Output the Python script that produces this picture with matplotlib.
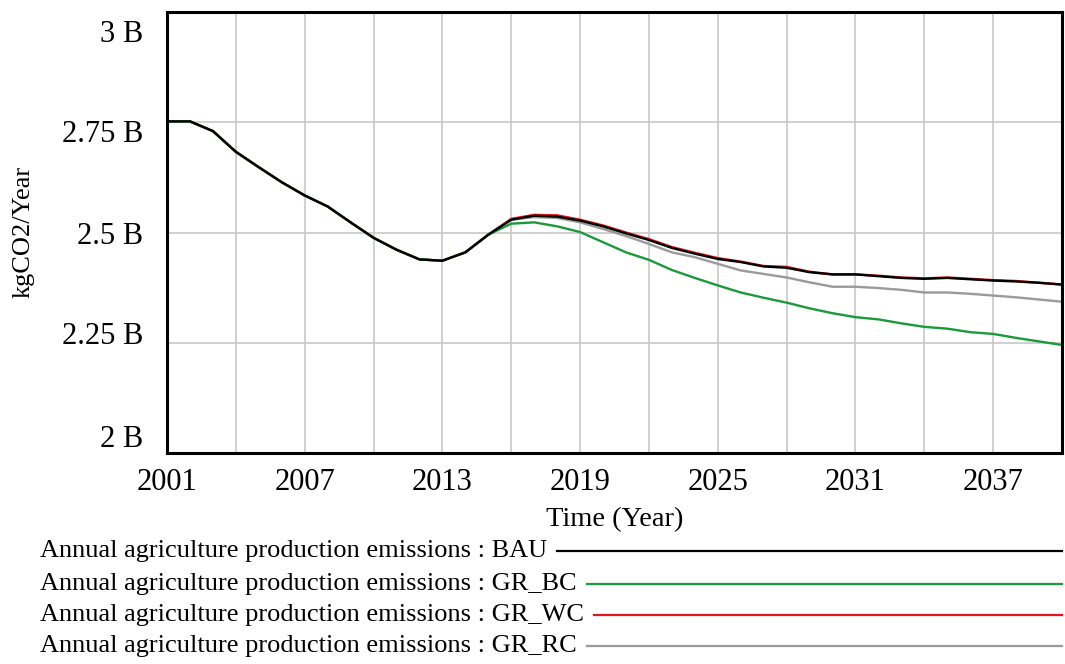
import matplotlib
matplotlib.use("Agg")
import matplotlib.pyplot as plt
from matplotlib.lines import Line2D
from matplotlib.transforms import ScaledTranslation

plt.rcParams['font.family'] = ['Liberation Serif', 'DejaVu Serif']

# annual emissions, billions of kgCO2 per year
years = list(range(2001, 2041))
bau = [2.752, 2.752, 2.730, 2.683, 2.648, 2.614, 2.584, 2.559, 2.523, 2.488,
       2.461, 2.439, 2.436, 2.455, 2.495, 2.529, 2.538, 2.536, 2.527, 2.514,
       2.498, 2.483, 2.465, 2.452, 2.440, 2.433, 2.423, 2.420, 2.410, 2.405,
       2.405, 2.401, 2.397, 2.395, 2.397, 2.394, 2.391, 2.389, 2.386, 2.382]
gr_bc = bau[:15] + [2.520, 2.523, 2.514, 2.501, 2.478, 2.455, 2.438, 2.415,
                    2.397, 2.380, 2.364, 2.352, 2.341, 2.328, 2.317, 2.308,
                    2.303, 2.294, 2.286, 2.282, 2.274, 2.270, 2.261, 2.253,
                    2.245]
gr_wc = bau[:15] + [2.531, 2.540, 2.539, 2.529, 2.516, 2.500, 2.485, 2.467,
                    2.454, 2.442, 2.434, 2.424, 2.422, 2.411, 2.405, 2.405,
                    2.402, 2.398, 2.396, 2.398, 2.395, 2.392, 2.390, 2.386,
                    2.382]
gr_rc = bau[:15] + [2.529, 2.535, 2.533, 2.523, 2.508, 2.492, 2.474, 2.455,
                    2.444, 2.429, 2.414, 2.406, 2.398, 2.387, 2.377, 2.377,
                    2.374, 2.370, 2.364, 2.364, 2.361, 2.357, 2.353, 2.348,
                    2.343]

series = [("BAU", bau, "#000000"),
          ("GR_BC", gr_bc, "#1a9a3a"),
          ("GR_WC", gr_wc, "#e8141c"),
          ("GR_RC", gr_rc, "#9a9a9a")]
z = {"BAU": 5, "GR_BC": 4, "GR_WC": 2, "GR_RC": 3}

y_ticks = [2.0, 2.25, 2.5, 2.75, 3.0]
y_labels = ["2 B", "2.25 B", "2.5 B", "2.75 B", "3 B"]
# labels are spread evenly inside the axis span, not right on the gridlines
y_label_shift = [0.17, 0.095, 0.0, -0.09, -0.19]
x_labels = [2001, 2007, 2013, 2019, 2025, 2031, 2037]

fig = plt.figure(figsize=(10.65, 6.64), dpi=100)
ax = fig.add_axes([167 / 1065, 1 - 453 / 664, 895 / 1065, 441 / 664])

for name, vals, col in series:
    ax.plot(years, vals, color=col, lw=1.7, zorder=z[name])

ax.set_xlim(2001, 2040)
ax.set_ylim(2.0, 3.0)
ax.set_xticks(range(2001, 2041, 3))
ax.set_xticklabels([str(y) if y in x_labels else "" for y in range(2001, 2041, 3)])
ax.set_yticks(y_ticks)
ax.set_yticklabels(y_labels)
ax.grid(True, color="#c8c8c8", lw=1.2)
ax.tick_params(axis="both", length=0, labelsize=22, colors="black")
ax.tick_params(axis="x", pad=11)
ax.tick_params(axis="y", pad=17)
for sp in ax.spines.values():
    sp.set_linewidth(2.2)
    sp.set_zorder(10)

for lab, dy in zip(ax.get_yticklabels(), y_label_shift):
    lab.set_transform(lab.get_transform() + ScaledTranslation(0, dy, fig.dpi_scale_trans))

ax.set_xlabel("Time (Year)", fontsize=20.5, labelpad=7)
fig.text(24 / 1065, 1 - 232 / 664, "kgCO2/Year", rotation=90, fontsize=19,
         ha="center", va="center")

# legend rows: caption on the left, line sample running to the right edge
fig.canvas.draw()
renderer = fig.canvas.get_renderer()
row_y = [551, 584, 615, 646]
for (name, vals, col), ry in zip(series, row_y):
    yf = 1 - ry / 664
    t = fig.text(40 / 1065, yf, "Annual agriculture production emissions : " + name,
                 fontsize=19, ha="left", va="center")
    bb = t.get_window_extent(renderer)
    x0 = (bb.x1 + 10) / fig.bbox.width
    fig.add_artist(Line2D([x0, 1062 / 1065], [yf, yf], color=col, lw=1.6))

fig.savefig("out.png", dpi=100)
